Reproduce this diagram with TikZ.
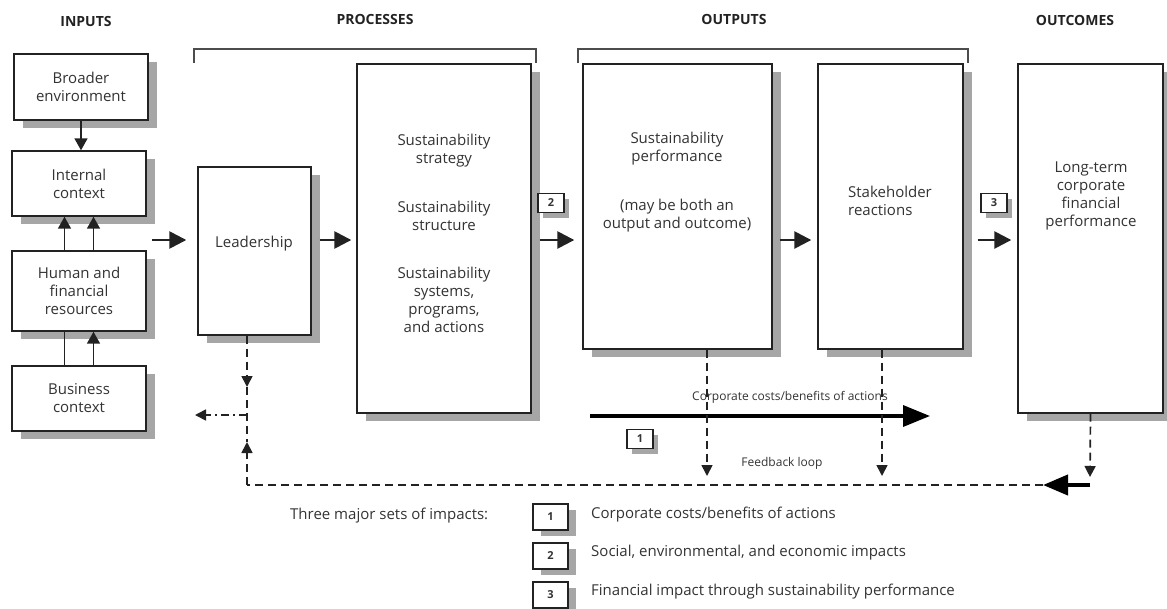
\documentclass[tikz,border=0pt]{standalone}
\usepackage{fontspec}
\setmainfont{Open Sans}
\usetikzlibrary{arrows.meta,shadows}

\definecolor{ink}{HTML}{222222}
\definecolor{txt}{HTML}{333333}
\definecolor{shade}{HTML}{A6A6A6}

\newcommand{\boxfont}{\fontsize{15}{18}\selectfont}
\newcommand{\headfont}{\fontsize{14}{16}\selectfont\bfseries}
\newcommand{\smallfont}{\fontsize{12}{14}\selectfont}
\newcommand{\badgefont}{\fontsize{11}{12}\selectfont\bfseries}

\tikzset{
  plainbox/.style={draw=ink, line width=1.4pt, fill=white, inner sep=0pt,
    align=center, text=txt, font=\boxfont},
  box/.style={plainbox,
    drop shadow={shadow xshift=9pt, shadow yshift=-8pt, fill=shade, opacity=1}},
  badge/.style={plainbox, font=\badgefont, minimum width=26pt, minimum height=19pt,
    drop shadow={shadow xshift=5pt, shadow yshift=-5pt, fill=shade, opacity=1}},
  legbadge/.style={plainbox, font=\badgefont, minimum width=35pt, minimum height=26pt,
    drop shadow={shadow xshift=8pt, shadow yshift=-6pt, fill=shade, opacity=1}},
  boxtext/.style={align=center, text=txt, font=\boxfont, inner sep=0pt},
  heading/.style={text=ink, font=\headfont, inner sep=0pt},
  smalltext/.style={text=txt, font=\smallfont, inner sep=0pt},
  legtext/.style={text=txt, font=\boxfont, inner sep=0pt, anchor=west},
  bracket/.style={draw=black!70, line width=1.5pt},
  flow/.style={draw=ink, line width=2.6pt, -{Triangle[length=17pt,width=17pt]}},
  smallarr/.style={draw=ink, line width=1.6pt, -{Triangle[length=12pt,width=13pt]}},
  plainline/.style={draw=ink, line width=1.6pt},
  dashline/.style={draw=ink, line width=1.7pt, dash pattern=on 8pt off 5pt},
  dasharr/.style={dashline, -{Triangle[length=11pt,width=11pt]}},
  dashdotarr/.style={draw=ink, line width=1.7pt, dash pattern=on 8pt off 4pt on 2pt off 4pt,
    -{Triangle[length=11pt,width=11pt]}},
  costarr/.style={draw=black, line width=3.5pt, -{Triangle[length=27pt,width=21pt]}},
  backarr/.style={draw=black, line width=4pt, -{Triangle[length=25pt,width=20pt]}},
}

\begin{document}
\begin{tikzpicture}[x=1pt,y=-1pt]
\useasboundingbox (0,0) rectangle (1167,608);

% column headings
\node[heading] (hin)   at (86,21)   {INPUTS};
\node[heading] (hproc) at (375,19)  {PROCESSES};
\node[heading] (hout)  at (734,19)  {OUTPUTS};
\node[heading] (houtc) at (1075,20) {OUTCOMES};

% brackets grouping the columns
\draw[bracket] (194,63) -- (194,49) -- (536,49) -- (536,63);
\draw[bracket] (578,63) -- (578,49) -- (968,49) -- (968,63);

% input boxes
\node[box, minimum width=134pt, minimum height=66pt] (env) at (81,87)    {Broader\\environment};
\node[box, minimum width=134pt, minimum height=65pt] (int) at (79,183.5) {Internal\\context};
\node[box, minimum width=134pt, minimum height=80pt] (hum) at (79,291)   {Human and\\financial\\resources};
\node[box, minimum width=134pt, minimum height=65pt] (bus) at (79,398.5) {Business\\context};

% process, output and outcome boxes
\node[box, minimum width=113pt, minimum height=168pt] (lead)  at (254.5,251)  {};
\node[box, minimum width=174pt, minimum height=349pt] (strat) at (444,238.5)  {};
\node[box, minimum width=189pt, minimum height=285pt] (perf)  at (677.5,206.5) {};
\node[box, minimum width=145pt, minimum height=285pt] (stake) at (890.5,206.5) {};
\node[box, minimum width=145pt, minimum height=349pt] (fin)   at (1090.5,238.5) {};

% texts inside the tall boxes
\node[boxtext] (lead-t)  at (254,244) {Leadership};
\node[boxtext] (strat-t) at (444,233)
  {Sustainability\\strategy\\[31pt]Sustainability\\structure\\[30pt]Sustainability\\systems,\\programs,\\and actions};
\node[boxtext] (perf-t)  at (677,182)
  {Sustainability\\performance\\[31pt](may be both an\\output and outcome)};
\node[boxtext, align=left] (stake-t) at (890,201) {Stakeholder\\reactions};
\node[boxtext] (fin-t)   at (1091,196) {Long-term\\corporate\\financial\\performance};

% impact badges
\node[badge] (b2) at (551,203) {2};
\node[badge] (b3) at (994,203) {3};
\node[badge] (b1) at (640,439) {1};

% links among the inputs
\draw[smallarr] (env.south) -- (env.south |- int.north);
\draw[smallarr] ([xshift=-14.5pt]hum.north) -- ([xshift=-14.5pt]int.south);
\draw[smallarr] ([xshift=14.5pt]hum.north) -- ([xshift=14.5pt]int.south);
\draw[plainline] ([xshift=-14.5pt]bus.north) -- ([xshift=-14.5pt]hum.south);
\draw[smallarr] ([xshift=14.5pt]bus.north) -- ([xshift=14.5pt]hum.south);

% main flow
\coordinate (flowy) at (0,240);
\coordinate (inlead) at (152,240);
\draw[flow, shorten >=11pt] (inlead) -- (lead.west |- flowy);
\draw[flow, shorten <=8pt, shorten >=5pt] (lead.east |- flowy) -- (strat.west |- flowy);
\draw[flow, shorten <=8pt, shorten >=8pt] (strat.east |- flowy) -- (perf.west |- flowy);
\draw[flow, shorten <=7pt, shorten >=6pt] (perf.east |- flowy) -- (stake.west |- flowy);
\draw[flow, shorten <=14pt, shorten >=6pt] (stake.east |- flowy) -- (fin.west |- flowy);

% corporate costs / benefits arrow
\coordinate (cstart) at (590,416);
\coordinate (cend) at (930,416);
\draw[costarr] (cstart) -- (cend);
\node[smalltext] (clab) at (790,397) {Corporate costs/benefits of actions};

% feedback loop
\coordinate (ldrop) at ([xshift=-7.5pt]lead.south);
\coordinate (ltip)  at (247,387);
\coordinate (lup)   at (247,442);
\coordinate (lside) at (247,415);
\coordinate (lout)  at (195,415);
\coordinate (fbL)   at (247,485);
\coordinate (ptip)  at (707,476);
\coordinate (stip)  at (882,476);
\coordinate (ftip)  at (1090,477);
\coordinate (fbR)   at (1090,485);
\coordinate (fbM)   at (1043,485);

\draw[dasharr] (ldrop) -- (ltip);
\draw[dashline] (ltip) -- (lup);
\draw[dasharr] (fbL) -- (lup);
\draw[dashdotarr] (lside) -- (lout);

\draw[dasharr] ([xshift=29.5pt]perf.south) -- (ptip);
\draw[dasharr] ([xshift=-8.5pt]stake.south) -- (stip);
\draw[dasharr] (fin.south) -- (ftip);
\draw[backarr] (fbR) -- (fbM);
\draw[dashline] (fbM) -- (fbL);
\node[smalltext] (fblab) at (782,463) {Feedback loop};

% legend
\node[legtext] (leghead) at (290,516) {Three major sets of impacts:};
\node[legbadge] (lb1) at (550.5,517) {1};
\node[legbadge] (lb2) at (550.5,556) {2};
\node[legbadge] (lb3) at (550.5,595) {3};
\node[legtext] (l1) at (591,515) {Corporate costs/benefits of actions};
\node[legtext] (l2) at (591,553) {Social, environmental, and economic impacts};
\node[legtext] (l3) at (591,592) {Financial impact through sustainability performance};
\end{tikzpicture}
\end{document}
